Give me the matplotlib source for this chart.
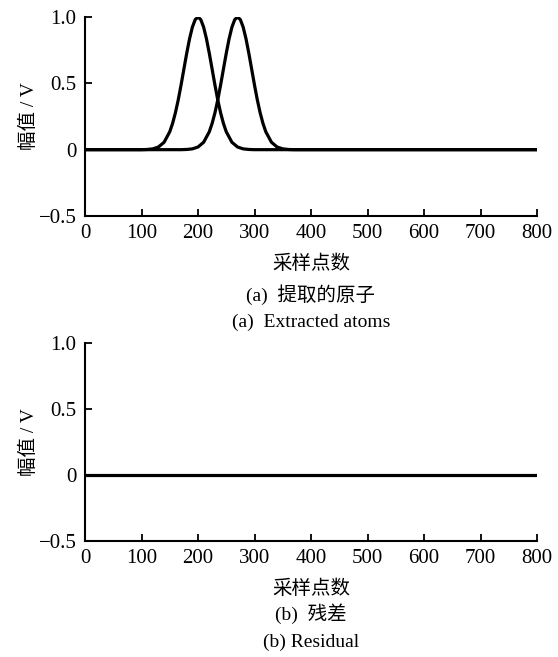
"""提取的原子 / 残差 两联图"""
import matplotlib
matplotlib.use('Agg')
import matplotlib.pyplot as plt

plt.rcParams['font.family'] = ['Liberation Serif', 'Noto Sans CJK SC', 'DejaVu Sans']
plt.rcParams['axes.unicode_minus'] = True

# ── 数据 ──
atom1_x = [0, 100, 110, 120, 130, 140, 150, 155, 160, 165, 170, 175, 180, 185, 190, 195, 200,
           205, 210, 215, 220, 225, 230, 235, 240, 245, 250, 260, 270, 280, 290, 300, 800]
atom1_y = [0, 0, 0.0015, 0.006, 0.020, 0.056, 0.135, 0.198, 0.278, 0.375, 0.487, 0.607,
           0.726, 0.835, 0.923, 0.980, 1.0,
           0.980, 0.923, 0.835, 0.726, 0.607, 0.487, 0.375, 0.278, 0.198, 0.135,
           0.056, 0.020, 0.006, 0.0015, 0, 0]

atom2_x = [0, 170, 180, 190, 200, 210, 220, 225, 230, 235, 240, 245, 250, 255, 260, 265, 270,
           275, 280, 285, 290, 295, 300, 305, 310, 315, 320, 330, 340, 350, 360, 370, 800]
atom2_y = [0, 0, 0.0015, 0.006, 0.020, 0.056, 0.135, 0.198, 0.278, 0.375, 0.487, 0.607,
           0.726, 0.835, 0.923, 0.980, 1.0,
           0.980, 0.923, 0.835, 0.726, 0.607, 0.487, 0.375, 0.278, 0.198, 0.135,
           0.056, 0.020, 0.006, 0.0015, 0, 0]

resid_x = [0, 800]
resid_y = [0, 0]

x_ticks = [0, 100, 200, 300, 400, 500, 600, 700, 800]
y_ticks = [-0.5, 0, 0.5, 1.0]
y_tick_labels = ['\u22120.5', '0', '0.5', '1.0']

FS = 14
TFS = 15
W, H = 558, 657
fig = plt.figure(figsize=(W / 100, H / 100), dpi=100)
fig.patch.set_facecolor('white')

L, R = 85 / W, 537 / W
ax1 = fig.add_axes([L, 1 - 216 / H, R - L, (216 - 17) / H])
ax2 = fig.add_axes([L, 1 - 541 / H, R - L, (541 - 343) / H])

ax1.plot(atom1_x, atom1_y, color='black', lw=2.3, solid_joinstyle='round')
ax1.plot(atom2_x, atom2_y, color='black', lw=2.3, solid_joinstyle='round')
ax2.plot(resid_x, resid_y, color='black', lw=2.3)

for ax in (ax1, ax2):
    ax.set_xlim(0, 800)
    ax.set_ylim(-0.5, 1.0)
    ax.set_xticks(x_ticks)
    ax.set_yticks(y_ticks)
    ax.set_yticklabels(y_tick_labels)
    ax.spines['top'].set_visible(False)
    ax.spines['right'].set_visible(False)
    ax.spines['left'].set_linewidth(1.5)
    ax.spines['bottom'].set_linewidth(1.5)
    ax.tick_params(direction='in', length=5, width=1.3, labelsize=TFS)
    ax.tick_params(axis='x', pad=6)
    ax.tick_params(axis='y', pad=6)
    ax.set_xlabel('采样点数', fontsize=FS, labelpad=8)
    ax.set_ylabel('幅值 / V', fontsize=FS)
    ax.yaxis.set_label_coords(-0.105, 0.5)

xc = (L + R) / 2
fig.text(xc, 1 - 295 / H, '(a)  提取的原子', ha='center', va='center', fontsize=FS)
fig.text(xc, 1 - 322 / H, '(a)  Extracted atoms', ha='center', va='center', fontsize=FS)
fig.text(xc, 1 - 614 / H, '(b)  残差', ha='center', va='center', fontsize=FS)
fig.text(xc, 1 - 642 / H, '(b) Residual', ha='center', va='center', fontsize=FS)

fig.savefig('out.png', dpi=100, facecolor='white')
